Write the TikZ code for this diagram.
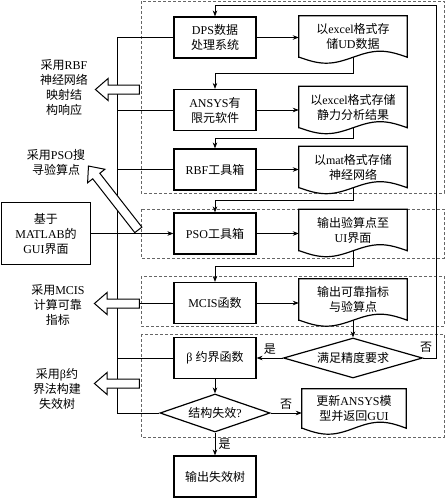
\documentclass[tikz,border=0pt]{standalone}
\usepackage{fontspec}
\setmainfont{Liberation Serif}
\newfontfamily\cjkfont{Noto Sans CJK SC}
\XeTeXinterchartokenstate=1
\newXeTeXintercharclass\cjkclass
\newcount\cjkcode
\cjkcode="4E00
\loop
  \XeTeXcharclass\cjkcode=\cjkclass
  \advance\cjkcode by 1
\ifnum\cjkcode<"A000 \repeat
\XeTeXinterchartoks 0 \cjkclass={\cjkfont}
\XeTeXinterchartoks 4095 \cjkclass={\cjkfont}
\XeTeXinterchartoks \cjkclass 0={\rmfamily}
\XeTeXinterchartoks \cjkclass 4095={\rmfamily}
\usetikzlibrary{arrows.meta,shapes.geometric,shapes.arrows,calc}
\begin{document}
\begin{tikzpicture}[x=1pt, y=-1pt, >={Stealth[length=6pt,width=4.5pt]}]
\tikzstyle{every node}=[font=\fontsize{12}{15}\selectfont]
\tikzstyle{proc}=[draw, line width=1.2pt, minimum width=82, minimum height=41, align=center, inner sep=0pt]
\tikzstyle{doc}=[minimum width=108, minimum height=41, align=center, inner sep=0pt]
\tikzstyle{decide}=[draw, diamond, line width=1.2pt, inner sep=0pt, align=center]
\tikzstyle{group}=[draw=black!60, dash pattern=on 3pt off 2pt, line width=0.7pt]
\tikzstyle{line}=[line width=0.7pt]
\tikzstyle{fat}=[draw, single arrow, fill=white, line width=1pt, minimum width=21, inner sep=4pt, single arrow head extend=6.5pt, single arrow tip angle=82, shape border rotate=180]
    \useasboundingbox (0,0) rectangle (446,499);
    \draw[group] (141,1) rectangle (444,193);
    \draw[group] (141,209) rectangle (444,258);
    \draw[group] (141,276) rectangle (444,326);
    \draw[group] (141,334) rectangle (444,437);
    \node[proc] (a) at (215,37.5) {DPS数据\\处理系统};
    \node[proc] (b) at (215,110) {ANSYS有\\限元软件};
    \node[proc] (c) at (215,169.5) {RBF工具箱};
    \node[proc] (d) at (215,233.5) {PSO工具箱};
    \node[proc] (e) at (215,303) {MCIS函数};
    \node[proc] (f) at (215,358) {β 约界函数};
    \node[decide, aspect=2.9, minimum width=110, minimum height=38] (g) at (215,413) {结构失效?};
    \node[proc] (h) at (215,476.5) {输出失效树};
    \node[proc, minimum width=89, minimum height=62] (m) at (46,233.5) {基于\\MATLAB的\\GUI界面};
    \node[doc] (da) at (353,36.5) {以excel格式存\\储UD数据};
    \node[doc] (db) at (353,107) {以excel格式存储\\静力分析结果};
    \node[doc] (dc) at (353,167) {以mat格式存储\\神经网络};
    \node[doc] (dd) at (353,230) {输出验算点至\\UI界面};
    \node[doc] (de) at (353,299.5) {输出可靠指标\\与验算点};
    \node[doc, minimum width=104, minimum height=39] (df) at (354,408.5) {更新ANSYS模\\型并返回GUI};
    \node[decide, aspect=3.5, minimum width=139, minimum height=40] (q) at (353,358) {满足精度要求};
    \foreach \q/\w in {da/27,db/27,dc/27,dd/27,de/27,df/26}
        \draw[line width=1.2pt] (\q.south west) -- (\q.north west) -- (\q.north east) -- (\q.south east)
            sin ++(-\w,-6) cos ++(-\w,6) sin ++(-\w,6) cos ++(-\w,-6) -- cycle;
    \foreach \p/\q in {a/da,b/db,c/dc,d/dd,e/de}
        \draw[line,->] (\p.east) -- (\p.east -| \q.west);
    \foreach \q/\p in {da/b,db/c,dc/d,dd/e}
        \draw[line,->] (\q.south) |- ($(\q.south)!.5!(\p.north)$) -| (\p.north);
    \draw[line,->] (de.south) -- (q.north);
    \draw[line,->] (q.west) -- (f.east) node[midway, above] (y1) {是};
    \coordinate (k) at (436,5);
    \draw[line,->] (q.east) -| (k) -| (a.north);
    \node (n1) at (426,347) {否};
    \draw[line,->] (f) -- (g);
    \draw[line,->] (g) -- (h) node[midway, right] (y2) {是};
    \draw[line,->] (g.east) -- (g.east -| df.west) node[midway, above] (n2) {否};
    \coordinate (bus) at (117,0);
    \draw[line] (a.west) -- (a.west -| bus) -- (bus |- g.west) -- (g.west);
    \foreach \p in {b,c,e,f}
        \draw[line] (\p.west) -- (\p.west -| bus);
    \draw[line,->] (m) -- (d);
    \node[fat, minimum height=44] (r1) at (120,89.5) {};
    \node[fat, minimum height=81, rotate=-52] (r2) at (115,200) {};
    \node[fat, minimum height=45] (r3) at (119.5,303.5) {};
    \node[fat, minimum height=45] (r4) at (119.5,383.5) {};
    \node[align=center] (l1) at (64,88) {采用RBF\\神经网络\\映射结\\构响应};
    \node[align=center] (l2) at (56,162) {采用PSO搜\\寻验算点};
    \node[align=center] (l3) at (58,305) {采用MCIS\\计算可靠\\指标};
    \node[align=center] (l4) at (57,388.5) {采用β约\\界法构建\\失效树};
\end{tikzpicture}
\end{document}
